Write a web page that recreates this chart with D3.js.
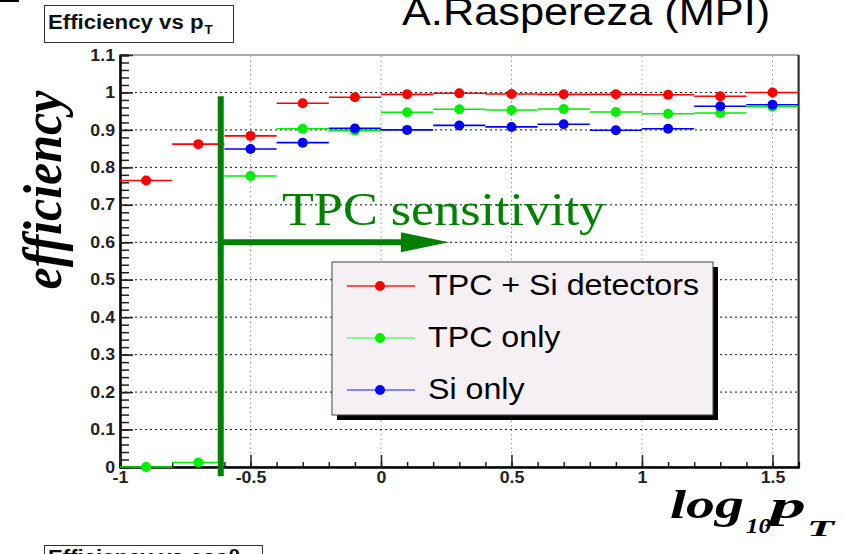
<!DOCTYPE html>
<html>
<head>
<meta charset="utf-8">
<script src="https://cdn.jsdelivr.net/npm/d3@7"></script>
<style>
  body { margin: 0; background: #fff; }
  svg { display: block; }
</style>
</head>
<body>
<div id="chart"></div>
<script>
// bins in log10(pT), each 0.2 wide
const binCenters = [-0.9, -0.7, -0.5, -0.3, -0.1, 0.1, 0.3, 0.5, 0.7, 0.9, 1.1, 1.3, 1.5];
const binHalfWidth = 0.1;

const effTpcSi = [0.765, 0.862, 0.884, 0.971, 0.987, 0.995, 0.998, 0.996, 0.995, 0.995, 0.994, 0.990, 1.0];
const effTpc   = [0.0, 0.012, 0.777, 0.903, 0.898, 0.947, 0.955, 0.953, 0.956, 0.948, 0.943, 0.945, 0.962];
const effSi    = [null, null, 0.849, 0.866, 0.904, 0.900, 0.912, 0.908, 0.915, 0.899, 0.903, 0.963, 0.967];

const seriesNames  = ["TPC + Si detectors", "TPC only", "Si only"];
const seriesColors = ["#ff0000", "#00ee00", "#0000ff"];
const legendLineColors = ["#ff2020", "#66ff66", "#6060ff"];

const xTicks = [-1, -0.5, 0, 0.5, 1, 1.5];
const yTicks = [0, 0.1, 0.2, 0.3, 0.4, 0.5, 0.6, 0.7, 0.8, 0.9, 1, 1.1];
const yGrid  = [0.1, 0.2, 0.3, 0.4, 0.5, 0.6, 0.7, 0.8, 0.9, 1];
const xGrid  = [-0.5, 0, 0.5, 1, 1.5];

// annotation: TPC sensitivity threshold
const tpcCut = -0.614;
const arrowEnd = 0.26;
const arrowLevel = 0.6;

const W = 844, H = 554;
const sx = 1.11; // the original picture is stretched horizontally

const svg = d3.select("#chart").append("svg")
    .attr("width", W).attr("height", H);

const x = d3.scaleLinear().domain([-1, 1.6]).range([120, 798.6]);
const y = d3.scaleLinear().domain([0, 1.1]).range([467, 55]);

function stretch(sel, k) {
    sel.each(function () {
        let w = this.getComputedTextLength();
        this.setAttribute("textLength", w * k);
        this.setAttribute("lengthAdjust", "spacingAndGlyphs");
    });
}

// frame
svg.append("rect")
    .attr("x", x(-1)).attr("y", y(1.1))
    .attr("width", x(1.6) - x(-1)).attr("height", y(0) - y(1.1))
    .attr("fill", "#fff").attr("stroke", "#555").attr("stroke-width", 1);
svg.append("line")
    .attr("x1", x(1.6)).attr("x2", x(1.6))
    .attr("y1", y(1.1)).attr("y2", y(0))
    .attr("stroke", "#222").attr("stroke-width", 2);

// grid
svg.append("g").selectAll("line")
    .data(xGrid).join("line")
    .attr("x1", d => x(d)).attr("x2", d => x(d))
    .attr("y1", y(0)).attr("y2", y(1.1))
    .attr("stroke", "#999").attr("stroke-dasharray", "1.5,3");
svg.append("g").selectAll("line")
    .data(yGrid).join("line")
    .attr("x1", x(-1)).attr("x2", x(1.6))
    .attr("y1", d => y(d)).attr("y2", d => y(d))
    .attr("stroke", "#111").attr("stroke-dasharray", "2,3");

// axes
let fmt = d => String(d);
let yMinor = svg.append("g").attr("transform", `translate(${x(-1)},0)`)
    .call(d3.axisLeft(y).tickValues(d3.range(0, 1.1001, 0.02)).tickSize(-9).tickFormat(""));
let yAxis = svg.append("g").attr("transform", `translate(${x(-1)},0)`)
    .call(d3.axisLeft(y).tickValues(yTicks).tickSizeInner(-13).tickSizeOuter(0).tickPadding(5).tickFormat(fmt));
let xMinor = svg.append("g").attr("transform", `translate(0,${y(0)})`)
    .call(d3.axisBottom(x).tickValues(d3.range(-1, 1.6, 0.1)).tickSize(-5).tickFormat(""));
let xAxis = svg.append("g").attr("transform", `translate(0,${y(0)})`)
    .call(d3.axisBottom(x).tickValues(xTicks).tickSizeInner(-12).tickSizeOuter(0).tickPadding(5).tickFormat(fmt));

[yMinor, yAxis, xMinor, xAxis].forEach(g => {
    g.selectAll("line").attr("stroke", "#222").attr("stroke-width", 1.5);
    g.select(".domain").attr("stroke", "#000").attr("stroke-width", 2);
    g.selectAll("text")
        .attr("font-family", "'Liberation Sans', Arial, sans-serif")
        .attr("font-weight", "bold")
        .attr("font-size", 16)
        .attr("fill", "#222");
});
stretch(yAxis.selectAll("text"), sx);
stretch(xAxis.selectAll("text"), sx);

// data series
let series = [effTpcSi, effTpc, effSi].map((vals, i) => ({
    name: seriesNames[i],
    color: seriesColors[i],
    points: binCenters.map((c, j) => ({x: c, v: vals[j]})).filter(p => p.v !== null)
}));

let sg = svg.append("g").selectAll("g")
    .data(series).join("g");
sg.selectAll("line")
    .data(d => d.points.map(p => ({...p, color: d.color})))
    .join("line")
    .attr("x1", d => x(d.x - binHalfWidth)).attr("x2", d => x(d.x + binHalfWidth))
    .attr("y1", d => y(d.v)).attr("y2", d => y(d.v))
    .attr("stroke", d => d.color).attr("stroke-width", 1.6);
sg.selectAll("circle")
    .data(d => d.points.map(p => ({...p, color: d.color})))
    .join("circle")
    .attr("cx", d => x(d.x)).attr("cy", d => y(d.v))
    .attr("r", 5)
    .attr("fill", d => d.color);

// TPC sensitivity annotation
const dkGreen = "#008000";
svg.append("line")
    .attr("x1", x(tpcCut)).attr("x2", x(tpcCut))
    .attr("y1", y(0.99)).attr("y2", y(-0.025))
    .attr("stroke", dkGreen).attr("stroke-width", 6);
svg.append("line")
    .attr("x1", x(tpcCut)).attr("x2", x(arrowEnd) - 46)
    .attr("y1", y(arrowLevel)).attr("y2", y(arrowLevel))
    .attr("stroke", dkGreen).attr("stroke-width", 6);
let ax = x(arrowEnd), ay = y(arrowLevel);
svg.append("path")
    .attr("d", `M${ax},${ay} L${ax - 48},${ay - 10} L${ax - 48},${ay + 10} Z`)
    .attr("fill", dkGreen);
let sens = svg.append("text")
    .attr("x", 282).attr("y", 225)
    .attr("font-family", "'Liberation Serif', 'Times New Roman', serif")
    .attr("font-size", 47)
    .attr("fill", dkGreen)
    .text("TPC sensitivity");
stretch(sens, sx);

// legend
const lg = svg.append("g").attr("transform", "translate(332,262)");
lg.append("rect").attr("x", 5).attr("y", 5).attr("width", 381).attr("height", 153).attr("fill", "#000");
lg.append("rect").attr("width", 381).attr("height", 153)
    .attr("fill", "#f4f0f4").attr("stroke", "#444").attr("stroke-width", 1);
const rows = lg.selectAll("g.row").data(series).join("g")
    .attr("class", "row")
    .attr("transform", (d, i) => `translate(0,${24 + i * 52})`);
rows.append("line")
    .attr("x1", 15).attr("x2", 83)
    .attr("stroke", (d, i) => legendLineColors[i]).attr("stroke-width", 1.6);
rows.append("circle").attr("cx", 48).attr("r", 5).attr("fill", d => d.color);
let lt = rows.append("text")
    .attr("x", 96).attr("y", 9)
    .attr("font-family", "'Liberation Sans', Arial, sans-serif")
    .attr("font-size", 29)
    .attr("fill", "#000")
    .text(d => d.name);
stretch(lt, sx);

// axis titles
let yt = svg.append("text")
    .attr("transform", `translate(61,190) scale(${sx},1) rotate(-90)`)
    .attr("text-anchor", "middle")
    .attr("font-family", "'Liberation Serif', 'Times New Roman', serif")
    .attr("font-style", "italic").attr("font-weight", "bold")
    .attr("font-size", 50)
    .text("efficiency");

const serif = "'Liberation Serif', 'Times New Roman', serif";
function titlePart(txt, px, py, size, len) {
    svg.append("text")
        .attr("x", px).attr("y", py)
        .attr("font-family", serif)
        .attr("font-style", "italic").attr("font-weight", "bold")
        .attr("font-size", size)
        .attr("textLength", len)
        .attr("lengthAdjust", "spacingAndGlyphs")
        .text(txt);
}
titlePart("log", 670, 518, 40, 74);
titlePart("10", 746, 533, 21, 25);
titlePart("p", 770, 518, 38, 36);
titlePart("T", 807, 536, 24, 27);

// histogram title boxes
function titleBox(bx, by, bw, bh, base, main, sub) {
    svg.append("rect")
        .attr("x", bx + 0.5).attr("y", by + 0.5)
        .attr("width", bw).attr("height", bh)
        .attr("fill", "#fff").attr("stroke", "#333").attr("stroke-width", 1);
    let t = svg.append("text")
        .attr("x", bx + 4).attr("y", by + base)
        .attr("font-family", "'Liberation Sans', Arial, sans-serif")
        .attr("font-weight", "bold").attr("font-size", 20)
        .attr("fill", "#111")
        .text(main);
    stretch(t, sx);
    if (sub) {
        let w = t.node().getComputedTextLength();
        let s = svg.append("text")
            .attr("x", bx + 4 + w + 1).attr("y", by + base + 5)
            .attr("font-family", "'Liberation Sans', Arial, sans-serif")
            .attr("font-weight", "bold").attr("font-size", 12)
            .attr("fill", "#111")
            .text(sub);
        stretch(s, sx);
    }
}
titleBox(44, 5, 189, 37, 24, "Efficiency vs p", "T");
titleBox(44, 545, 218, 30, 19, "Efficiency vs cos\u03b8", null);

// bits of neighbouring panels
svg.append("rect").attr("x", 0).attr("y", 0).attr("width", 19).attr("height", 2).attr("fill", "#000");
let auth = svg.append("text")
    .attr("x", 402).attr("y", 25)
    .attr("font-family", "'Liberation Sans', Arial, sans-serif")
    .attr("font-size", 39)
    .attr("fill", "#000")
    .text("A.Raspereza (MPI)");
stretch(auth, sx);
</script>
</body>
</html>
